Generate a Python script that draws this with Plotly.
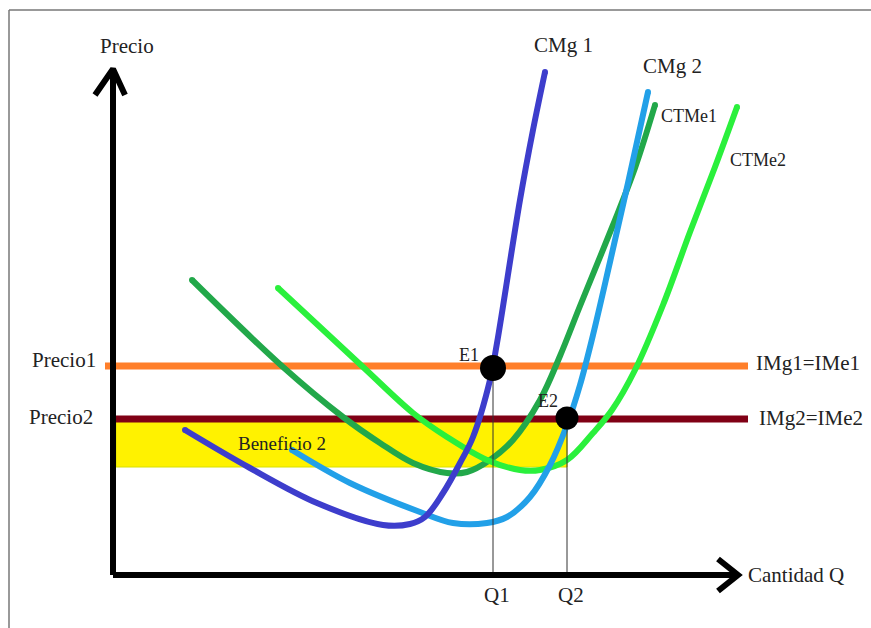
import plotly.graph_objects as go

# Conceptual data (quantity Q, price P) measured from the axis origin
cmg1_q = [72, 137, 204, 270, 297, 312, 330, 347, 360, 377, 384, 407, 420, 432]
cmg1_p = [145, 107, 72, 50, 51, 58, 82, 112, 138, 195, 232, 375, 445, 503]

cmg2_q = [179, 237, 307, 340, 374, 394, 417, 437, 454, 467, 480, 497, 515, 535]
cmg2_p = [125, 92, 63, 52, 52, 58, 78, 110, 150, 190, 240, 313, 392, 483]

ctme1_q = [79, 170, 230, 267, 300, 334, 354, 377, 400, 427, 447, 467, 500, 522, 542]
ctme1_p = [295, 208, 158, 132, 112, 102, 103, 115, 135, 175, 219, 269, 350, 407, 470]

ctme2_q = [165, 250, 300, 334, 374, 407, 427, 454, 480, 499, 522, 550, 577, 602, 624]
ctme2_p = [287, 208, 162, 138, 115, 105, 105, 115, 142, 165, 205, 270, 343, 408, 468]

precio1 = 209
precio2 = 156
precio_q_end = 635
coste_medio_2 = 108
q1 = 380
q2 = 454
e1_p = 207
e2_p = 157

FONT = "Liberation Serif"
TXT = "#222222"

fig = go.Figure()

# Profit rectangle (Beneficio 2)
fig.add_shape(type="rect", x0=3, x1=q2, y0=coste_medio_2, y1=precio2,
              fillcolor="#fff200", line=dict(color="#d8e000", width=1), layer="below")

# Price lines
fig.add_trace(go.Scatter(x=[-8, precio_q_end], y=[precio1, precio1], mode="lines",
                         line=dict(color="#ff7f2a", width=7)))
fig.add_trace(go.Scatter(x=[0, precio_q_end], y=[precio2, precio2], mode="lines",
                         line=dict(color="#800015", width=7)))

# Cost curves
def curve(q, p, color):
    fig.add_trace(go.Scatter(x=q, y=p, mode="lines", line=dict(color=color, width=6, shape="spline", smoothing=1)))
    fig.add_trace(go.Scatter(x=[q[0], q[-1]], y=[p[0], p[-1]], mode="markers",
                             marker=dict(color=color, size=6, opacity=1, line=dict(width=0))))

curve(ctme1_q, ctme1_p, "#22a84a")
curve(ctme2_q, ctme2_p, "#2af03c")
curve(cmg2_q, cmg2_p, "#22a0e8")
curve(cmg1_q, cmg1_p, "#3d3dcc")

# Vertical guides to Q1 and Q2
fig.add_trace(go.Scatter(x=[q1, q1], y=[0, e1_p], mode="lines", line=dict(color="#333333", width=1)))
fig.add_trace(go.Scatter(x=[q2, q2], y=[0, e2_p], mode="lines", line=dict(color="#333333", width=1)))

# Axes with arrows
fig.add_trace(go.Scatter(x=[0, 0, None, -18, 0, 12], y=[0, 505, None, 480, 506, 480], mode="lines",
                         line=dict(color="black", width=6)))
fig.add_trace(go.Scatter(x=[0, 624, None, 605, 625, 605], y=[0, 0, None, 16, 0, -16], mode="lines",
                         line=dict(color="black", width=6)))

# Equilibrium points
fig.add_trace(go.Scatter(x=[q1], y=[e1_p], mode="markers",
                         marker=dict(color="black", size=26, opacity=1, line=dict(width=0))))
fig.add_trace(go.Scatter(x=[q2], y=[e2_p], mode="markers",
                         marker=dict(color="black", size=23, opacity=1, line=dict(width=0))))

labels = [
    ("Precio", 14, 529, 21),
    ("CMg 1", 450, 530, 21),
    ("CMg 2", 559, 509, 21),
    ("CTMe1", 576, 459, 18),
    ("CTMe2", 645, 415, 18),
    ("Precio1", -49, 215, 21),
    ("Precio2", -52, 158, 21),
    ("IMg1=IMe1", 695, 212, 21),
    ("IMg2=IMe2", 698, 157, 21),
    ("Cantidad Q", 683, 0, 21),
    ("Q1", 384, -20, 21),
    ("Q2", 458, -20, 21),
    ("E1", 356, 220, 18),
    ("E2", 435, 174, 18),
    ("Beneficio 2", 169, 132, 19),
]
for t, x, y, s in labels:
    fig.add_annotation(x=x, y=y, text=t, showarrow=False, xanchor="center", yanchor="middle",
                       font=dict(family=FONT, size=s, color=TXT))

# Image frame (left and top edges)
fig.add_shape(type="line", xref="paper", yref="paper", x0=9/871, x1=9/871, y0=0, y1=1-10/628,
              line=dict(color="#777777", width=1.5))
fig.add_shape(type="line", xref="paper", yref="paper", x0=9/871, x1=1, y0=1-10/628, y1=1-10/628,
              line=dict(color="#777777", width=1.5))

fig.update_layout(
    width=871, height=628, margin=dict(l=0, r=0, t=0, b=0),
    paper_bgcolor="white", plot_bgcolor="white", showlegend=False,
    xaxis=dict(range=[-113, 758], visible=False, fixedrange=True),
    yaxis=dict(range=[-53, 575], visible=False, fixedrange=True),
)

fig.write_html("out.html", config={"displayModeBar": False},
               post_script="document.body.style.margin='0';document.body.style.overflow='hidden';")
